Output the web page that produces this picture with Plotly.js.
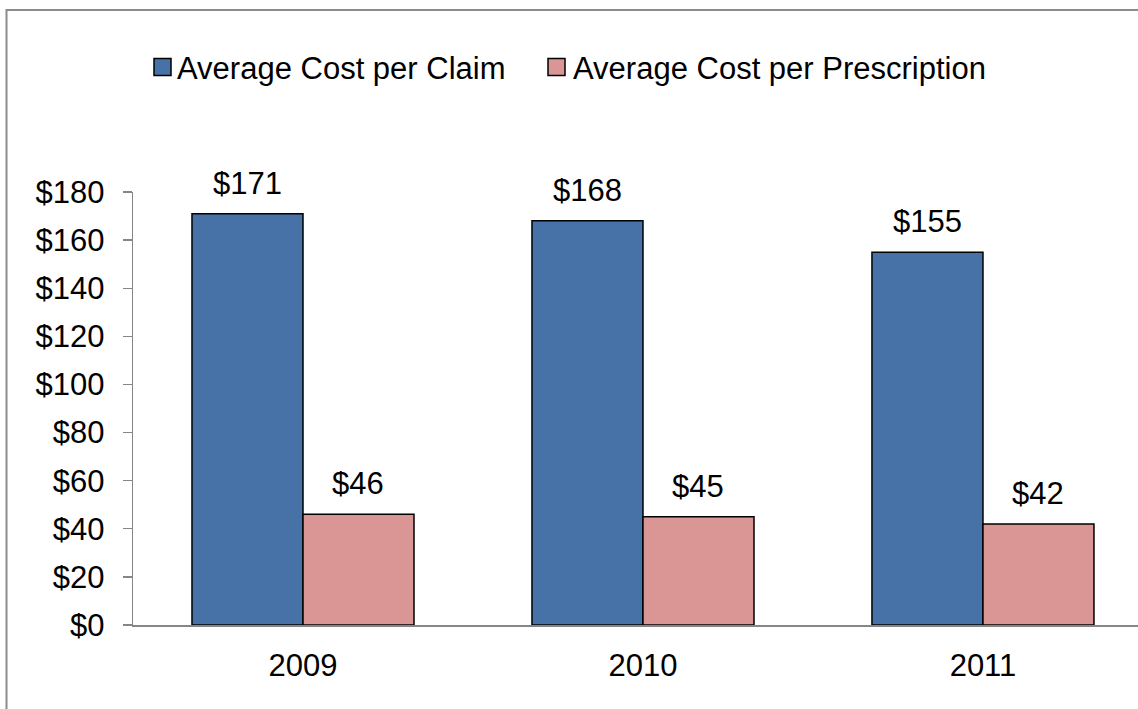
<!DOCTYPE html>
<html>
<head>
<meta charset="utf-8">
<script src="https://cdn.plot.ly/plotly-3.0.1.min.js"></script>
<style>
  html, body { margin: 0; padding: 0; background: #ffffff; }
  #chart { width: 1138px; height: 709px; }
</style>
</head>
<body>
<div id="chart"></div>
<script>
const years = ['2009', '2010', '2011'];
const costPerClaim = [171, 168, 155];
const costPerPrescription = [46, 45, 42];
const seriesNames = ['Average Cost per Claim', 'Average Cost per Prescription'];
const seriesColors = ['#4672A7', '#DA9694'];
const yTickVals = [0, 20, 40, 60, 80, 100, 120, 140, 160, 180];

const DOLLAR = String.fromCharCode(36);
const FONT = 'Liberation Sans, Arial, sans-serif';
const FS = 31;
const seriesValues = [costPerClaim, costPerPrescription];

// plot-area geometry (pixels) used to place the outer frame and the legend boxes
const M = { l: 133, r: 0, t: 192, b: 84 };
const W = 1138, H = 709;
const PW = W - M.l - M.r, PH = H - M.t - M.b;
const px2x = p => (p - M.l) / PW;
const px2y = p => (H - M.b - p) / PH;

const traces = seriesValues.map((vals, i) => ({
  type: 'bar',
  name: seriesNames[i],
  x: years,
  y: vals,
  marker: { color: seriesColors[i], line: { color: '#000000', width: 1.5 } },
  hoverinfo: 'skip',
  showlegend: false
}));

// value labels above the bars (category axis -> use category index)
const annotations = [];
seriesValues.forEach((vals, i) => {
  vals.forEach((v, j) => {
    annotations.push({
      x: years.indexOf(years[j]), y: v, xref: 'x', yref: 'y',
      text: DOLLAR + v,
      showarrow: false,
      xanchor: 'center', yanchor: 'bottom',
      xshift: i === 0 ? -55.5 : 55.5,
      yshift: 11,
      font: { family: FONT, size: FS, color: '#000000' }
    });
  });
});

// legend (drawn as boxes + labels)
const legendBoxLeft = [154, 548];
const legendTextLeft = [175, 571];
const legendMidY = 67;
const shapes = [{
  type: 'rect', xref: 'paper', yref: 'paper',
  x0: px2x(6.5), x1: 1.2,
  y0: -0.5, y1: px2y(10),
  line: { color: '#8C8C8C', width: 2 },
  fillcolor: 'rgba(0,0,0,0)'
}];
seriesNames.forEach((name, i) => {
  shapes.push({
    type: 'rect', xref: 'paper', yref: 'paper',
    x0: px2x(legendBoxLeft[i]), x1: px2x(legendBoxLeft[i] + 17),
    y0: px2y(legendMidY + 8.5), y1: px2y(legendMidY - 8.5),
    line: { color: '#000000', width: 1.5 },
    fillcolor: seriesColors[i]
  });
  annotations.push({
    xref: 'paper', yref: 'paper',
    x: px2x(legendTextLeft[i]), y: px2y(legendMidY + 1),
    xanchor: 'left', yanchor: 'middle',
    text: name, showarrow: false,
    font: { family: FONT, size: FS, color: '#000000' }
  });
});

const layout = {
  width: W, height: H,
  margin: M,
  paper_bgcolor: '#ffffff', plot_bgcolor: '#ffffff',
  font: { family: FONT, size: FS, color: '#000000' },
  barmode: 'group',
  bargap: 0.347,
  bargroupgap: 0,
  showlegend: false,
  xaxis: {
    type: 'category',
    range: [-0.5, 2.456],
    showgrid: false, zeroline: false,
    showline: true, linecolor: '#868686', linewidth: 2,
    ticks: '',
    tickfont: { family: FONT, size: FS, color: '#000000' },
    ticklabelstandoff: 12,
    fixedrange: true
  },
  yaxis: {
    range: [0, 180],
    tickmode: 'array',
    tickvals: yTickVals,
    ticktext: yTickVals.map(v => DOLLAR + v),
    showgrid: false, zeroline: false,
    showline: true, linecolor: '#868686', linewidth: 1.3,
    ticks: 'outside', ticklen: 9, tickcolor: '#868686', tickwidth: 1.3,
    tickfont: { family: FONT, size: FS, color: '#000000' },
    ticklabelstandoff: 12,
    fixedrange: true
  },
  shapes: shapes,
  annotations: annotations
};

Plotly.newPlot('chart', traces, layout, { displayModeBar: false, staticPlot: true });
</script>
</body>
</html>
